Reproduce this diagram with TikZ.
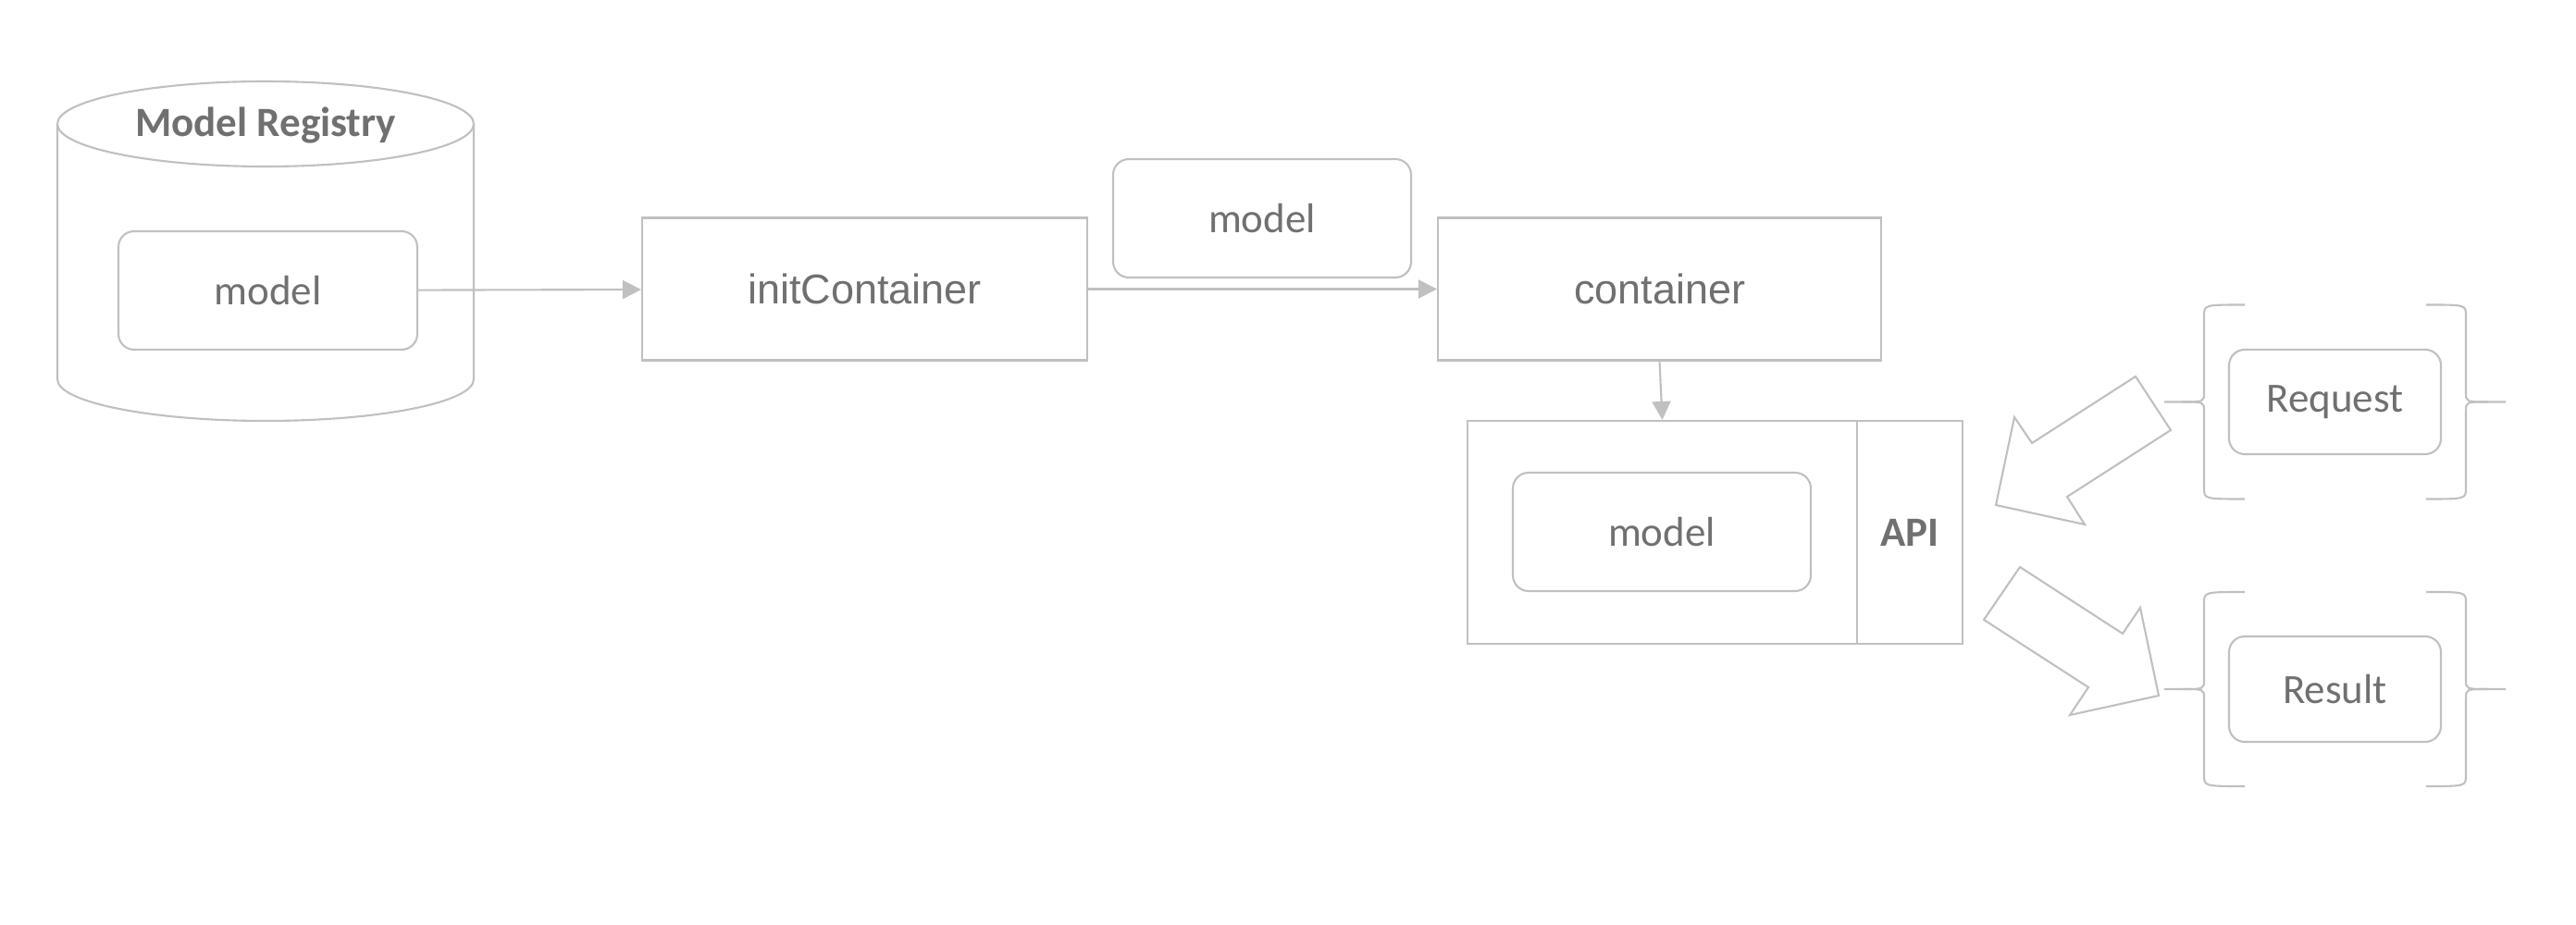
\documentclass[tikz,border=0pt]{standalone}
\usepackage{fontspec}
\setmainfont{Carlito}
\newfontfamily\arialfont{Liberation Sans}
\usetikzlibrary{arrows.meta}

\definecolor{edge}{HTML}{C0C0C0}
\definecolor{ink}{HTML}{707070}

\tikzset{
	line/.style={draw=edge, line width=0.6pt},
	box/.style={line, rectangle, inner sep=0pt, text=ink, font=\fontsize{12.8}{15}\selectfont},
	rbox/.style={box, rounded corners=0.17cm, minimum width=3.22cm, minimum height=1.28cm},
	flow/.style={line, -{Triangle[length=0.2cm, width=0.2cm]}, edge}
}

\begin{document}
\begin{tikzpicture}
	\useasboundingbox (0,0) rectangle (27.84,-10);

	% model registry
	\draw[line] (0.62,-1.34) -- (0.62,-4.10) arc[start angle=180, end angle=360, x radius=2.25, y radius=0.45] -- (5.12,-1.34);
	\draw[line] (2.87,-1.34) ellipse [x radius=2.25, y radius=0.46];
	\node[text=ink, font=\fontsize{12.8}{15}\selectfont\bfseries] (registry) at (2.87,-1.36) {Model Registry};
	\node[rbox, minimum width=3.23cm] (regmodel) at (2.895,-3.14) {model};

	\node[box, minimum width=4.81cm, minimum height=1.54cm, font=\fontsize{12.8}{15}\selectfont\arialfont] (init) at (9.345,-3.125) {initContainer};
	\node[rbox] (copy) at (13.64,-2.36) {model};
	\node[box, minimum width=4.79cm, minimum height=1.54cm, font=\fontsize{12.8}{15}\selectfont\arialfont] (container) at (17.935,-3.125) {container};

	% pod with api
	\node[box, minimum width=4.21cm, minimum height=2.41cm] (pod) at (17.965,-5.755) {};
	\node[box, minimum width=1.14cm, minimum height=2.41cm, font=\fontsize{12.8}{15}\selectfont\bfseries] (api) at (20.64,-5.755) {API};
	\node[rbox] (podmodel) at (17.96,-5.75) {model};

	\node[rbox, minimum width=2.29cm, minimum height=1.13cm] (req) at (25.235,-4.345) {Request};
	\node[rbox, minimum width=2.29cm, minimum height=1.14cm] (res) at (25.235,-7.45) {Result};

	\draw[flow] (regmodel) -- (init);
	\draw[flow] (init) -- (container);
	\draw[flow] (container.south) -- (pod.north);

	% braces
	\foreach \ym in {-4.345,-7.45} {
		\begin{scope}[yshift=\ym cm]
			\draw[line] (24.26,1.05) .. controls (23.82,1.05) .. (23.82,0.93) -- (23.82,0.1) .. controls (23.82,0) .. (23.58,0) -- (23.39,0);
			\draw[line] (24.26,-1.05) .. controls (23.82,-1.05) .. (23.82,-0.93) -- (23.82,-0.1) .. controls (23.82,0) .. (23.58,0);
			\draw[line] (26.22,1.05) .. controls (26.65,1.05) .. (26.65,0.93) -- (26.65,0.1) .. controls (26.65,0) .. (26.89,0) -- (27.08,0);
			\draw[line] (26.22,-1.05) .. controls (26.65,-1.05) .. (26.65,-0.93) -- (26.65,-0.1) .. controls (26.65,0) .. (26.89,0);
		\end{scope}
	}

	% big arrows
	\draw[line, line join=miter] (23.08,-4.07) -- (23.46,-4.65) -- (22.34,-5.37) -- (22.53,-5.67) -- (21.57,-5.46) -- (21.77,-4.51) -- (21.96,-4.79) -- cycle;
	\draw[line, line join=miter] (21.83,-6.13) -- (21.44,-6.70) -- (22.57,-7.43) -- (22.37,-7.73) -- (23.33,-7.52) -- (23.13,-6.57) -- (22.94,-6.85) -- cycle;
\end{tikzpicture}
\end{document}
